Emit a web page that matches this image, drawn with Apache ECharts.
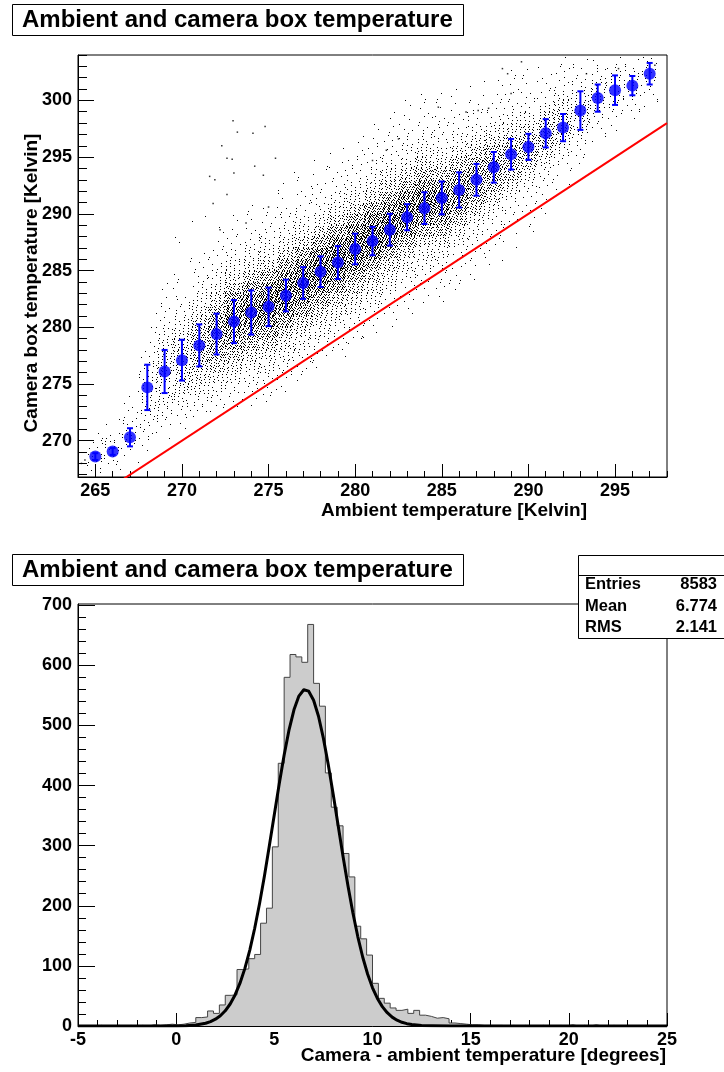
<!DOCTYPE html>
<html>
<head>
<meta charset="utf-8">
<script src="https://cdn.jsdelivr.net/npm/echarts@6.0.0/dist/echarts.min.js"></script>
<style>
html,body{margin:0;padding:0;background:#fff;}
#chart{width:724px;height:1072px;}
</style>
</head>
<body>
<div id="chart"></div>
<script>
// ---------------- DATA ----------------
const titleText = 'Ambient and camera box temperature';
const topXTitle = 'Ambient temperature [Kelvin]';
const topYTitle = 'Camera box temperature [Kelvin]';
const botXTitle = 'Camera - ambient temperature [degrees]';

// top panel axes
const topXRange = [264, 298];
const topYRange = [266.8, 304];
const topXMajor = [265, 270, 275, 280, 285, 290, 295];
const topYMajor = [270, 275, 280, 285, 290, 295, 300];

// profile (blue points): ambient temperature bin centres, mean camera temp, spread
const profX = [265,266,267,268,269,270,271,272,273,274,275,276,277,278,279,280,281,282,283,284,285,286,287,288,289,290,291,292,293,294,295,296,297];
const profMean = [268.6,269.05,270.3,274.7,276.1,277.1,278.4,279.4,280.5,281.3,281.8,282.8,283.9,284.9,285.7,286.9,287.6,288.6,289.7,290.5,291.4,292.1,293.0,294.1,295.25,295.9,297.1,297.6,299.1,300.2,300.9,301.3,302.35];
const profErr = [0.3,0.3,0.8,2.0,1.9,1.8,1.85,1.8,1.9,1.95,1.7,1.4,1.4,1.35,1.45,1.35,1.25,1.4,1.15,1.4,1.45,1.55,1.4,1.35,1.35,1.15,1.25,1.2,1.7,1.2,1.3,0.85,0.95];

// scatter cloud as 2D histogram: per ambient column, first camera-temp row and relative dot density per 1 K row
const cloudX = profX;
const cloudRowStart = [267,267,268,269,270,271,272,272,273,273,273,274,275,276,277,278,279,280,281,282,282,283,284,285,287,288,290,292,294,296,297,298,299];
const cloudCounts = [
  [3,5,3,1],
  [1,4,5,2,1],
  [1,3,5,4,2,1],
  [1,3,4,5,6,6,5,4,3,1,1],
  [1,3,5,7,9,10,10,9,7,5,3,2,1,1],
  [1,3,6,10,13,15,15,13,10,6,4,3,1,1,0,0,1],
  [2,4,8,12,18,22,24,22,16,10,6,4,3,2,1,0,0,1],
  [1,3,6,10,16,24,32,35,32,24,14,8,5,3,2,1,1],
  [2,4,7,12,20,30,40,45,42,32,20,11,6,4,2,1,1],
  [1,3,5,8,14,22,34,45,50,46,34,20,10,6,4,2,1,1],
  [1,2,4,7,10,18,30,44,52,52,42,28,15,8,5,3,2,1],
  [1,2,4,7,11,18,30,44,54,55,45,30,16,9,5,3,2,1,1],
  [1,2,4,7,11,18,30,45,55,56,46,30,16,9,5,3,2,1,1],
  [1,2,4,7,11,18,30,46,56,58,46,30,16,9,5,3,2,1,1],
  [1,2,4,7,11,18,32,46,56,58,46,30,16,9,5,3,2,1,1],
  [1,2,4,7,11,18,30,46,56,58,46,30,16,9,5,3,2,1,1],
  [1,2,4,7,11,18,30,46,56,58,46,30,16,9,5,3,2,1,1],
  [1,2,3,6,10,16,28,44,55,56,44,28,16,9,5,3,2,1,1],
  [1,2,3,5,9,15,26,42,54,55,42,26,15,8,5,3,2,1,1],
  [1,2,3,5,8,14,25,40,52,52,40,25,14,8,5,3,2,1,1],
  [1,2,2,4,7,12,22,36,48,48,36,22,12,7,4,3,2,1,1],
  [1,1,2,3,6,10,20,32,42,42,32,20,11,6,3,2,1,1],
  [1,1,2,3,5,9,17,28,36,36,28,17,9,5,3,2,1,1],
  [1,1,2,2,4,8,15,24,32,32,24,14,7,3,2,1,1],
  [1,1,2,3,6,12,20,26,26,18,10,5,3,2,1,1],
  [1,1,2,3,5,10,18,24,22,14,7,3,2,1,1],
  [1,1,2,4,8,14,20,20,12,6,3,2,1],
  [1,1,3,6,10,16,16,11,5,3,2,1],
  [1,2,4,7,10,11,8,4,2,1],
  [1,2,4,7,8,6,3,1],
  [1,2,4,6,6,4,1],
  [1,2,4,5,4,1],
  [1,2,3,4,3]
];
// isolated outlying dots
const outlierX = [272.95,273.2,274.1,274.8,272.3,272.6,272.9,271.6,271.9,273.0,274.2,274.7,275.4,271.8,272.6,272.2,275.0,273.7,288.5,288.8,289.6,289.0,293.35,295.2,297.3,284.8,286.4,287.1,287.7,282.5,281.8,281.0,264.2,264.4];
const outlierY = [298.2,297.2,297.1,297.7,296.0,294.9,294.8,293.3,293.0,293.6,294.2,293.4,294.9,290.9,291.7,288.6,290.6,289.2,302.8,302.35,303.4,300.6,302.35,302.8,303.1,299.4,298.97,299.1,299.3,296.6,295.6,294.7,268.0,268.3];

// y = x reference line
const diagX = [264, 298];
const diagY = [264, 298];

// bottom panel: histogram of camera - ambient
const histLow = -5;
const histBinWidth = 0.3;
const histCounts = [
  0,0,0,1,0,0,1,0,1,0,
  1,0,2,1,
  2,3,2,3,5,6,
  14,15,25,21,35,51,52,
  94,95,112,119,171,196,
  298,437,580,618,614,605,668,
  570,532,421,364,333,287,248,
  166,145,118,71,46,38,30,
  26,28,21,26,18,16,13,14,12,
  5,4,3,2,2,1,1,1,
  1,0,1,0,1,0,0,1,0,0,1,0,2,0,1,0,2,0,0,1,0,0,0,0,0,0,0,0,0
];
const botXRange = [-5, 25];
const botYRange = [0, 702];
const botXMajor = [-5, 0, 5, 10, 15, 20, 25];
const botYMajor = [0, 100, 200, 300, 400, 500, 600, 700];

// gaussian fit curve
const fitX = [-5,-2.5,0,0.5,1,1.5,1.75,2,2.25,2.5,2.75,3,3.25,3.5,3.75,4,4.25,4.5,4.75,5,5.25,5.5,5.75,6,6.25,6.5,6.58,6.75,7,7.25,7.5,7.75,8,8.25,8.5,8.75,9,9.25,9.5,9.75,10,10.25,10.5,10.75,11,11.25,11.5,11.75,12,12.5,13,14,20,25];
const fitY = [0,0,0.2,0.6,1.7,4.6,7.3,11.3,17.1,25.3,36.6,51.7,71.2,95.9,126.3,162.6,204.1,250.5,300.5,352,403,450.8,492.7,526,548.8,559.3,560,557,541.9,515.2,478.5,434.2,385,333.4,282,233.4,188.5,148.8,114.8,86.5,63.6,45.8,32.2,22.1,14.8,9.7,6.2,3.9,2.4,0.8,0.3,0,0,0];

// stats box
const statLabels = ['Entries', 'Mean', 'RMS'];
const statValues = ['8583', '6.774', '2.141'];

// ---------------- BUILD ----------------
const FONT = "'Liberation Sans', Arial, Helvetica, sans-serif";
const DOT_SCALE = 1.8; // dots drawn per unit of cloud density
function range(a, b, s) { const r = []; for (let v = a; v <= b + 1e-9; v += s) r.push(Math.round(v * 1000) / 1000); return r; }

const cloudData = [];
cloudX.forEach((x, i) => {
  cloudCounts[i].forEach((n, j) => { if (n > 0) cloudData.push([x, cloudRowStart[i] + j, n]); });
});
const outlierData = outlierX.map((x, i) => [x, outlierY[i]]);
const profData = profX.map((x, i) => [x, profMean[i], profErr[i]]);
const diagData = diagX.map((x, i) => [x, diagY[i]]);
const histData = histCounts.map((c, k) => [histLow + k * histBinWidth, c]);
histData.push([histLow + histCounts.length * histBinWidth, histCounts[histCounts.length - 1]]);
const fitData = fitX.map((x, i) => [x, fitY[i]]);

function frac(v) { return v - Math.floor(v); }

function majorAxis(opts) {
  return Object.assign({
    type: 'value',
    axisLine: { show: true, onZero: false, lineStyle: { color: '#000', width: 1 } },
    splitLine: { show: false },
    axisTick: { show: true, inside: true, length: opts.tickLen, customValues: opts.ticks, lineStyle: { color: '#000', width: 1 } },
    axisLabel: { show: true, customValues: opts.ticks, color: '#000', fontFamily: FONT, fontWeight: 'bold', fontSize: 18, margin: opts.margin }
  }, opts.extra);
}
function minorAxis(opts) {
  return Object.assign({
    type: 'value',
    axisLine: { show: false, onZero: false },
    splitLine: { show: false },
    axisTick: { show: true, inside: true, length: opts.tickLen, customValues: opts.ticks, lineStyle: { color: '#000', width: 1 } },
    axisLabel: { show: false }
  }, opts.extra);
}

const chart = echarts.init(document.getElementById('chart'), null, { renderer: 'canvas' });

const option = {
  animation: false,
  backgroundColor: '#fff',
  grid: [
    { left: 78, top: 55, width: 589, height: 422, show: true, borderColor: '#000', borderWidth: 1, backgroundColor: 'transparent' },
    { left: 78, top: 604, width: 589, height: 422, show: true, borderColor: '#000', borderWidth: 1, backgroundColor: 'transparent' }
  ],
  xAxis: [
    majorAxis({ ticks: topXMajor, tickLen: 13, margin: 5, extra: { gridIndex: 0, min: topXRange[0], max: topXRange[1], position: 'bottom' } }),
    minorAxis({ ticks: range(topXRange[0], topXRange[1], 1), tickLen: 6, extra: { gridIndex: 0, min: topXRange[0], max: topXRange[1], position: 'bottom' } }),
    majorAxis({ ticks: botXMajor, tickLen: 13, margin: 5, extra: { gridIndex: 1, min: botXRange[0], max: botXRange[1], position: 'bottom' } }),
    minorAxis({ ticks: range(botXRange[0], botXRange[1], 1), tickLen: 6, extra: { gridIndex: 1, min: botXRange[0], max: botXRange[1], position: 'bottom' } })
  ],
  yAxis: [
    majorAxis({ ticks: topYMajor, tickLen: 16, margin: 6, extra: { gridIndex: 0, min: topYRange[0], max: topYRange[1], position: 'left' } }),
    minorAxis({ ticks: range(267, 304, 1), tickLen: 9, extra: { gridIndex: 0, min: topYRange[0], max: topYRange[1], position: 'left' } }),
    majorAxis({ ticks: botYMajor, tickLen: 17, margin: 6, extra: { gridIndex: 1, min: botYRange[0], max: botYRange[1], position: 'left' } }),
    minorAxis({ ticks: range(0, 700, 20), tickLen: 8, extra: { gridIndex: 1, min: botYRange[0], max: botYRange[1], position: 'left' } })
  ],
  series: [
    {
      type: 'custom', name: 'cloud', xAxisIndex: 0, yAxisIndex: 0, clip: true, silent: true, z: 2,
      encode: { x: 0, y: 1 },
      data: cloudData,
      renderItem: function (params, api) {
        const cx = api.value(0), ry = api.value(1), n = Math.round(api.value(2) * DOT_SCALE);
        const p0 = api.coord([cx - 0.5, ry + 1]);
        const p1 = api.coord([cx + 0.5, ry]);
        const w = p1[0] - p0[0], h = p1[1] - p0[1];
        const children = [];
        const seed = params.dataIndex * 61 + 7;
        for (let j = 0; j < n; j++) {
          const u = frac(0.5 + (seed + j) * 0.7548776662);
          const v = frac(0.5 + (seed + j) * 0.5698402910);
          children.push({ type: 'rect', shape: { x: Math.floor(p0[0] + u * w), y: Math.floor(p0[1] + v * h), width: 1, height: 1 }, style: { fill: '#000' } });
        }
        return { type: 'group', children: children };
      }
    },
    {
      type: 'scatter', name: 'outliers', xAxisIndex: 0, yAxisIndex: 0, data: outlierData,
      symbol: 'rect', symbolSize: 1.5, itemStyle: { color: '#000' }, silent: true, z: 2
    },
    {
      type: 'line', name: 'y=x', xAxisIndex: 0, yAxisIndex: 0, data: diagData, clip: true,
      symbol: 'none', lineStyle: { color: '#ff0000', width: 2 }, silent: true, z: 3
    },
    {
      type: 'custom', name: 'errors', xAxisIndex: 0, yAxisIndex: 0, silent: true, z: 4,
      encode: { x: 0, y: 1 },
      data: profData,
      renderItem: function (params, api) {
        const x = api.value(0), m = api.value(1), e = api.value(2);
        const t = api.coord([x, m + e]), b = api.coord([x, m - e]);
        const cap = 3, st = { stroke: '#0000ff', lineWidth: 2 };
        return { type: 'group', children: [
          { type: 'line', shape: { x1: t[0], y1: t[1], x2: b[0], y2: b[1] }, style: st },
          { type: 'line', shape: { x1: t[0] - cap, y1: t[1], x2: t[0] + cap, y2: t[1] }, style: st },
          { type: 'line', shape: { x1: b[0] - cap, y1: b[1], x2: b[0] + cap, y2: b[1] }, style: st }
        ] };
      }
    },
    {
      type: 'scatter', name: 'profile', xAxisIndex: 0, yAxisIndex: 0, data: profData.map(d => [d[0], d[1]]),
      symbol: 'circle', symbolSize: 12, itemStyle: { color: '#0000ff' }, silent: true, z: 5
    },
    {
      type: 'line', name: 'hist', xAxisIndex: 2, yAxisIndex: 2, data: histData, step: 'end',
      symbol: 'none', lineStyle: { color: '#444', width: 1 }, areaStyle: { color: '#cccccc', opacity: 1 }, silent: true, z: 2
    },
    {
      type: 'line', name: 'fit', xAxisIndex: 2, yAxisIndex: 2, data: fitData, smooth: false,
      symbol: 'none', lineStyle: { color: '#000', width: 3, join: 'round' }, silent: true, z: 3, clip: true
    }
  ],
  graphic: [
    // top title
    { type: 'rect', left: 13, top: 5, shape: { width: 451, height: 31 }, style: { fill: '#000' }, z: 100 },
    { type: 'rect', left: 12, top: 4, shape: { width: 451, height: 31 }, style: { fill: '#fff', stroke: '#000', lineWidth: 1 }, z: 101 },
    { type: 'text', x: 22, y: 20, style: { text: titleText, fill: '#000', font: 'bold 24px ' + FONT, textAlign: 'left', textVerticalAlign: 'middle' }, z: 102 },
    // bottom title
    { type: 'rect', left: 13, top: 555, shape: { width: 451, height: 31 }, style: { fill: '#000' }, z: 100 },
    { type: 'rect', left: 12, top: 554, shape: { width: 451, height: 31 }, style: { fill: '#fff', stroke: '#000', lineWidth: 1 }, z: 101 },
    { type: 'text', x: 22, y: 570, style: { text: titleText, fill: '#000', font: 'bold 24px ' + FONT, textAlign: 'left', textVerticalAlign: 'middle' }, z: 102 },
    // axis titles
    { type: 'text', x: 587, y: 511, style: { text: topXTitle, fill: '#000', font: 'bold 19px ' + FONT, textAlign: 'right', textVerticalAlign: 'middle' }, z: 102 },
    { type: 'text', x: 32, y: 283, rotation: Math.PI / 2, style: { text: topYTitle, fill: '#000', font: 'bold 19px ' + FONT, textAlign: 'center', textVerticalAlign: 'middle' }, z: 102 },
    { type: 'text', x: 666, y: 1056, style: { text: botXTitle, fill: '#000', font: 'bold 19px ' + FONT, textAlign: 'right', textVerticalAlign: 'middle' }, z: 102 },
    // stats box
    { type: 'rect', left: 578, top: 555, shape: { width: 160, height: 83 }, style: { fill: '#fff', stroke: '#000', lineWidth: 1 }, z: 101 },
    { type: 'line', shape: { x1: 578, y1: 575.5, x2: 724, y2: 575.5 }, style: { stroke: '#000', lineWidth: 1 }, z: 102 },
    { type: 'text', x: 585, y: 584, style: { text: statLabels[0], fill: '#000', font: 'bold 16.5px ' + FONT, textAlign: 'left', textVerticalAlign: 'middle' }, z: 102 },
    { type: 'text', x: 585, y: 606, style: { text: statLabels[1], fill: '#000', font: 'bold 16.5px ' + FONT, textAlign: 'left', textVerticalAlign: 'middle' }, z: 102 },
    { type: 'text', x: 585, y: 627, style: { text: statLabels[2], fill: '#000', font: 'bold 16.5px ' + FONT, textAlign: 'left', textVerticalAlign: 'middle' }, z: 102 },
    { type: 'text', x: 717, y: 584, style: { text: statValues[0], fill: '#000', font: 'bold 16.5px ' + FONT, textAlign: 'right', textVerticalAlign: 'middle' }, z: 102 },
    { type: 'text', x: 717, y: 606, style: { text: statValues[1], fill: '#000', font: 'bold 16.5px ' + FONT, textAlign: 'right', textVerticalAlign: 'middle' }, z: 102 },
    { type: 'text', x: 717, y: 627, style: { text: statValues[2], fill: '#000', font: 'bold 16.5px ' + FONT, textAlign: 'right', textVerticalAlign: 'middle' }, z: 102 }
  ]
};
chart.setOption(option);
</script>
</body>
</html>
